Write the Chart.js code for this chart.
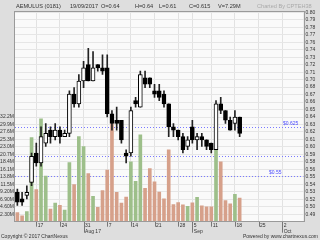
<!DOCTYPE html>
<html><head><meta charset="utf-8">
<script src="https://cdn.jsdelivr.net/npm/chart.js@4.4.1/dist/chart.umd.min.js"></script>
<style>
html,body{margin:0;padding:0;background:#dedede;width:320px;height:240px;overflow:hidden;}
#wrap{position:relative;width:320px;height:240px;}
canvas{position:absolute;left:0;top:0;}
.t{position:absolute;font-family:'Liberation Sans',Arial,sans-serif;font-size:5.6px;color:#333;white-space:nowrap;line-height:1;}
</style></head><body>
<div id="wrap">
<canvas id="c" width="320" height="240"></canvas>
<div class="t" style="left:16px;top:4px">AEMULUS (0181)</div>
<div class="t" style="left:70px;top:4px">19/09/2017</div>
<div class="t" style="left:101px;top:4px">O=0.64</div>
<div class="t" style="left:135px;top:4px">H=0.64</div>
<div class="t" style="left:159px;top:4px">L=0.61</div>
<div class="t" style="left:189px;top:4px">C=0.615</div>
<div class="t" style="left:218px;top:4px">V=7.29M</div>
<div class="t" style="left:257px;top:4px;color:#aaa">Charted By CPTEH38</div>
<div class="t" style="left:1px;top:234px;font-size:5px">Copyright © 2017 ChartNexus</div>
<div class="t" style="right:2px;top:234px;font-size:5px">Powered by www.chartnexus.com</div>
</div>
<script>
const categories = [
 '2017-07-11','2017-07-12','2017-07-13','2017-07-14','2017-07-17','2017-07-18','2017-07-19','2017-07-20','2017-07-21',
 '2017-07-24','2017-07-25','2017-07-26','2017-07-27','2017-07-28','2017-07-31',
 '2017-08-01','2017-08-02','2017-08-03','2017-08-04','2017-08-07','2017-08-08','2017-08-09','2017-08-10','2017-08-11',
 '2017-08-14','2017-08-15','2017-08-16','2017-08-17','2017-08-18','2017-08-21','2017-08-22','2017-08-23','2017-08-24','2017-08-25',
 '2017-08-28','2017-08-29','2017-08-30','2017-09-05','2017-09-06','2017-09-07','2017-09-08',
 '2017-09-11','2017-09-12','2017-09-13','2017-09-14','2017-09-15','2017-09-18','2017-09-19',
 '2017-09-20','2017-09-21','2017-09-22','2017-09-25','2017-09-26','2017-09-27','2017-09-28','2017-09-29',
 '2017-10-02','2017-10-03','2017-10-04','2017-10-05','2017-10-06'];

const openP  = [0.525,0.515,0.52,0.54,0.585,0.57,0.60,0.62,0.61,0.62,0.61,0.615,0.675,0.66,0.695,0.72,0.695,0.72,0.715,0.715,0.645,0.635,0.635,0.585,0.585,0.665,0.655,0.70,0.70,0.68,0.68,0.675,0.66,0.625,0.62,0.61,0.595,0.625,0.605,0.61,0.605,0.60,0.59,0.66,0.65,0.635,0.63,0.64];
const highP  = [0.53,0.525,0.535,0.585,0.60,0.625,0.63,0.625,0.63,0.625,0.62,0.68,0.685,0.705,0.725,0.745,0.74,0.72,0.735,0.735,0.65,0.655,0.635,0.59,0.655,0.67,0.71,0.71,0.70,0.69,0.69,0.68,0.66,0.63,0.62,0.615,0.61,0.635,0.615,0.615,0.605,0.60,0.665,0.67,0.65,0.64,0.65,0.64];
const lowP   = [0.505,0.505,0.515,0.535,0.565,0.565,0.595,0.60,0.605,0.60,0.61,0.61,0.655,0.655,0.685,0.695,0.695,0.71,0.705,0.64,0.62,0.62,0.60,0.57,0.58,0.655,0.655,0.685,0.685,0.67,0.665,0.655,0.61,0.61,0.605,0.585,0.59,0.60,0.59,0.595,0.59,0.585,0.59,0.645,0.63,0.62,0.62,0.61];
const closeP = [0.51,0.51,0.525,0.58,0.57,0.61,0.615,0.61,0.62,0.61,0.615,0.675,0.66,0.695,0.715,0.695,0.715,0.715,0.71,0.645,0.63,0.63,0.605,0.58,0.65,0.66,0.705,0.69,0.69,0.675,0.67,0.66,0.625,0.62,0.61,0.59,0.605,0.605,0.61,0.605,0.595,0.59,0.66,0.65,0.635,0.62,0.64,0.615];
const volumeM = [2.8,1.8,3.1,25.9,9.9,31.6,14.0,3.9,5.7,5.0,3.6,18.2,11.4,26.2,23.1,14.8,7.8,4.4,9.6,15.9,30.1,9.0,5.7,7.6,18.4,12.4,26.7,10.3,16.3,12.3,9.1,7.0,22.1,5.3,5.9,5.2,4.7,5.8,7.5,4.9,4.6,4.6,23.3,18.4,6.5,5.5,8.4,7.29];

const tickDates  = ['2017-07-17','2017-07-24','2017-07-31','2017-08-07','2017-08-14','2017-08-21','2017-08-28','2017-09-05','2017-09-11','2017-09-18','2017-09-25','2017-10-02'];
const tickDays   = ['17','24','31','7','14','21','28','5','11','18','25','2'];
const tickMonths = ['','','Aug 17','','','','','Sep','','','','Oct'];

const priceMin = 0.48, priceMax = 0.80;
const priceTickLabels = ['0.80','0.79','0.78','0.77','0.76','0.74','0.73','0.72','0.71','0.70','0.68','0.67','0.66','0.65','0.64','0.63','0.62','0.61','0.60','0.59','0.58','0.56','0.55','0.54','0.53','0.52','0.50','0.49',''];
const volMax = 64.4;
const volTickLabels = ['','2.30M','4.60M','6.90M','9.20M','11.5M','13.8M','16.1M','18.4M','20.7M','23.0M','25.3M','27.6M','29.9M','32.2M','','','','','','','','','','','','','',''];

const refLevels = [0.625, 0.58, 0.55];
const refLabels = ['$0.625', '', '$0.55'];

const FONT = {family:"'Liberation Sans', Arial, sans-serif", size:5, lineHeight:1};
const UPVOL = '#9dbf8a', DNVOL = '#d6a08a';

const volColors = volumeM.map((v,i)=> (i===0 ? closeP[i] > openP[i] : closeP[i] > closeP[i-1]) ? UPVOL : DNVOL);

const bgPlugin = {
  id:'bg',
  beforeDraw(chart){
    const {ctx, chartArea:a} = chart;
    ctx.save();
    ctx.fillStyle = '#fafafa';
    ctx.fillRect(a.left, a.top, a.right-a.left, a.bottom-a.top);
    ctx.restore();
  },
  beforeDatasetsDraw(chart){
    const {ctx, chartArea:a, scales} = chart;
    ctx.save();
    ctx.strokeStyle = '#7a7aff';
    ctx.lineWidth = 1;
    ctx.setLineDash([1,2]);
    refLevels.forEach((lv)=>{
      const y = Math.round(scales.y.getPixelForValue(lv)) + 0.5;
      ctx.beginPath(); ctx.moveTo(a.left, y); ctx.lineTo(a.right, y); ctx.stroke();
    });
    ctx.restore();
  },
  afterDraw(chart){
    const {ctx, chartArea:a, scales} = chart;
    ctx.save();
    ctx.font = "5px 'Liberation Sans', Arial, sans-serif";
    ctx.fillStyle = '#4a4aff';
    ctx.textBaseline = 'bottom';
    const lx = [283, 0, 269];
    refLevels.forEach((lv,i)=>{
      if(!refLabels[i]) return;
      const y = scales.y.getPixelForValue(lv);
      ctx.fillText(refLabels[i], lx[i], y - 0.5);
    });
    ctx.strokeStyle = '#777';
    ctx.lineWidth = 1;
    const xs = scales.x;
    tickDates.forEach((d,k)=>{
      const idx = categories.indexOf(d);
      const x = Math.round(xs.getPixelForValue(idx)) + 0.5;
      const len = tickMonths[k] ? 11 : 5;
      ctx.beginPath(); ctx.moveTo(x, a.bottom); ctx.lineTo(x, a.bottom + len); ctx.stroke();
    });
    ctx.strokeStyle = '#9a9a9a';
    ctx.strokeRect(Math.round(a.left)-0.5, Math.round(a.top)-0.5, Math.round(a.right-a.left)+1, Math.round(a.bottom-a.top)+1);
    ctx.restore();
  }
};

function labelFor(idx){
  const k = tickDates.indexOf(categories[idx]);
  if(k < 0) return '';
  return tickMonths[k] ? [tickDays[k], tickMonths[k]] : tickDays[k];
}

new Chart(document.getElementById('c'), {
  type:'bar',
  data:{
    labels: categories,
    datasets:[
      {label:'Volume', data: volumeM, yAxisID:'yv', backgroundColor: volColors, barThickness:3, grouped:false, order:3},
      {label:'Range', data: highP.map((h,i)=>[lowP[i], h]), yAxisID:'y', backgroundColor:'#222', barThickness:1, grouped:false, order:2},
      {label:'Body', data: openP.map((o,i)=>[Math.min(o,closeP[i]), Math.max(o,closeP[i])]), yAxisID:'y',
        backgroundColor: openP.map((o,i)=> closeP[i] >= o ? '#ffffff' : '#000000'),
        borderColor:'#000', borderWidth:1, borderSkipped:false, barThickness:4, grouped:false, order:1}
    ]
  },
  options:{
    responsive:false, animation:false, devicePixelRatio:1,
    layout:{padding:{top:12.3, left:0, right:0, bottom:0}},
    plugins:{legend:{display:false}, tooltip:{enabled:false}},
    scales:{
      x:{
        type:'category', offset:true,
        grid:{offset:false, drawTicks:false, color:(c)=> (c.tick && labelFor(c.index) !== '') ? '#e2e2e2' : 'rgba(0,0,0,0)'},
        border:{display:false},
        ticks:{autoSkip:false, maxRotation:0, minRotation:0, align:'start', labelOffset:1.5, padding:1, color:'#333', font:{...FONT, lineHeight:1.15},
          callback:(v,i)=> labelFor(i)},
        afterFit:(s)=>{ s.height = 18.3; }
      },
      y:{
        position:'right', min:priceMin, max:priceMax,
        afterBuildTicks:(s)=>{ s.ticks = priceTickLabels.map((l,i)=>({value: priceMax - i*(priceMax-priceMin)/(priceTickLabels.length-1)})); },
        grid:{color:'#e6e6e6', drawTicks:false},
        border:{display:false},
        ticks:{autoSkip:false, padding:2, color:'#333', font:FONT, callback:(v,i)=> priceTickLabels[i]},
        afterFit:(s)=>{ s.width = 16.5; }
      },
      yv:{
        position:'left', min:0, max:volMax,
        afterBuildTicks:(s)=>{ s.ticks = volTickLabels.map((l,i)=>({value: i*volMax/(volTickLabels.length-1)})); },
        grid:{display:false, drawTicks:false},
        border:{display:false},
        ticks:{autoSkip:false, padding:1, color:'#333', font:FONT, callback:(v,i)=> volTickLabels[i]},
        afterFit:(s)=>{ s.width = 15; }
      }
    }
  },
  plugins:[bgPlugin]
});
</script>
</body></html>
